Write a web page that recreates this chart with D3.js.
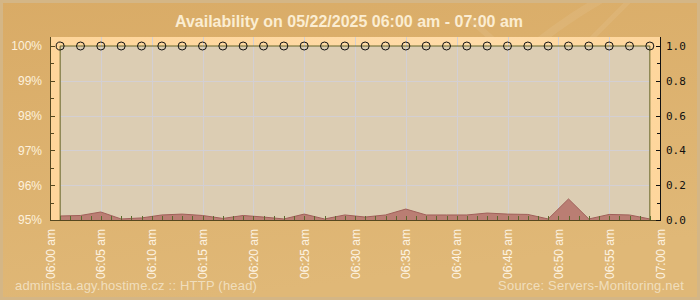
<!DOCTYPE html>
<html>
<head>
<meta charset="utf-8">
<script src="https://cdn.jsdelivr.net/npm/d3@7"></script>
<style>
  html, body { margin: 0; padding: 0; background: #dbb06e; }
  svg { display: block; }
</style>
</head>
<body>
<script>
// chart data
var titleText = "Availability on 05/22/2025 06:00 am - 07:00 am";
var footerLeft = "administa.agy.hostime.cz :: HTTP (head)";
var footerRight = "Source: Servers-Monitoring.net";

var pointTimes = ["06:01","06:03","06:05","06:07","06:09","06:11","06:13","06:15","06:17","06:19",
                  "06:21","06:23","06:25","06:27","06:29","06:31","06:33","06:35","06:37","06:39",
                  "06:41","06:43","06:45","06:47","06:49","06:51","06:53","06:55","06:57","06:59"];
var availability = [100,100,100,100,100,100,100,100,100,100,
                    100,100,100,100,100,100,100,100,100,100,
                    100,100,100,100,100,100,100,100,100,100];
var responseTime = [0.023,0.026,0.046,0.006,0.012,0.029,0.034,0.026,0.009,0.026,
                    0.017,0.006,0.034,0.006,0.029,0.017,0.029,0.063,0.029,0.029,
                    0.029,0.040,0.034,0.032,0.006,0.121,0.006,0.032,0.029,0.006];

var xTickTimes = ["06:00","06:05","06:10","06:15","06:20","06:25","06:30","06:35","06:40","06:45","06:50","06:55","07:00"];
var xTickLabels = ["06:00 am","06:05 am","06:10 am","06:15 am","06:20 am","06:25 am","06:30 am",
                   "06:35 am","06:40 am","06:45 am","06:50 am","06:55 am","07:00 am"];
var leftTicks = [95, 96, 97, 98, 99, 100];
var rightTicks = [0, 0.2, 0.4, 0.6, 0.8, 1.0];

var W = 700, H = 300;
var plot = {left: 50, right: 660, top: 37, bottom: 220};

var parseTime = d3.timeParse("%Y-%m-%d %H:%M");
function t(s) { return parseTime("2025-05-22 " + s); }

var x = d3.scaleTime()
    .domain([t("06:00"), t("07:00")])
    .range([plot.left, plot.right]);
var yLeft = d3.scaleLinear().domain([95, 100]).range([220, 46]);
var yRight = d3.scaleLinear().domain([0, 1]).range([220, 46]);

var points = pointTimes.map(function(s, i) {
    return {date: t(s), avail: availability[i], rt: responseTime[i]};
});

var svg = d3.select("body").append("svg")
    .attr("width", W)
    .attr("height", H)
    .style("font-family", "'Liberation Sans', Arial, sans-serif");

var defs = svg.append("defs");
var bg = defs.append("linearGradient").attr("id", "bg")
    .attr("x1", 0).attr("y1", 0).attr("x2", 0.3).attr("y2", 1);
bg.append("stop").attr("offset", "0%").attr("stop-color", "#d9ab66");
bg.append("stop").attr("offset", "100%").attr("stop-color", "#e0b877");

var frameGrad = defs.append("linearGradient").attr("id", "frame")
    .attr("x1", 0).attr("y1", 0).attr("x2", 1).attr("y2", 0);
frameGrad.append("stop").attr("offset", "0%").attr("stop-color", "#fed59a");
frameGrad.append("stop").attr("offset", "70%").attr("stop-color", "#ffdca9");
frameGrad.append("stop").attr("offset", "100%").attr("stop-color", "#fed69c");

// background
svg.append("rect")
    .attr("width", W).attr("height", H)
    .attr("fill", "url(#bg)");

// faint light streaks in the background
var streaks = svg.append("g").attr("fill", "none").attr("stroke", "#fff").attr("stroke-opacity", 0.07);
streaks.append("path").attr("d", "M430,140 C470,100 530,40 600,0").attr("stroke-width", 8);
streaks.append("path").attr("d", "M500,140 C540,90 580,50 630,0").attr("stroke-width", 5);
streaks.append("path").attr("d", "M470,20 C520,60 560,110 600,150").attr("stroke-width", 6);

svg.append("rect")
    .attr("x", 1.5).attr("y", 1.5)
    .attr("width", W - 3).attr("height", H - 3)
    .attr("fill", "none")
    .attr("stroke", "#d4b686")
    .attr("stroke-width", 3);

// title
svg.append("text")
    .attr("x", 349)
    .attr("y", 27)
    .attr("text-anchor", "middle")
    .attr("font-size", 16)
    .attr("font-weight", "bold")
    .attr("fill", "#fbedd2")
    .text(titleText);

// plot frame
svg.append("rect")
    .attr("x", plot.left).attr("y", plot.top)
    .attr("width", plot.right - plot.left)
    .attr("height", plot.bottom - plot.top)
    .attr("fill", "url(#frame)");

// availability area fill
var availArea = d3.area()
    .x(function(d) { return x(d.date); })
    .y0(yLeft(95))
    .y1(function(d) { return yLeft(d.avail); });

svg.append("path")
    .datum(points)
    .attr("d", availArea)
    .attr("fill", "#dccdb3");

// grid
var grid = svg.append("g").attr("stroke", "#d3cfd3").attr("stroke-width", 1);
grid.selectAll("line.v")
    .data(xTickTimes.slice(1, -1))
    .enter().append("line")
    .attr("x1", function(d) { return Math.round(x(t(d))) + 0.5; })
    .attr("x2", function(d) { return Math.round(x(t(d))) + 0.5; })
    .attr("y1", plot.top)
    .attr("y2", plot.bottom);
grid.selectAll("line.h")
    .data(leftTicks.slice(1, -1))
    .enter().append("line")
    .attr("x1", x(t(pointTimes[0])))
    .attr("x2", x(t(pointTimes[pointTimes.length - 1])))
    .attr("y1", function(d) { return Math.round(yLeft(d)) + 0.5; })
    .attr("y2", function(d) { return Math.round(yLeft(d)) + 0.5; });

// response time area (right axis)
var rtArea = d3.area()
    .x(function(d) { return x(d.date); })
    .y0(yRight(0))
    .y1(function(d) { return yRight(d.rt); });
var rtLine = d3.line()
    .x(function(d) { return x(d.date); })
    .y(function(d) { return yRight(d.rt); });

svg.append("path")
    .datum(points)
    .attr("d", rtArea)
    .attr("fill", "#ba7e73");
svg.append("path")
    .datum(points)
    .attr("d", rtLine)
    .attr("fill", "none")
    .attr("stroke", "#a0605a")
    .attr("stroke-width", 1);

// availability outline and markers
var first = points[0], last = points[points.length - 1];
var outline = [{date: first.date, avail: 95}].concat(points, [{date: last.date, avail: 95}]);
svg.append("path")
    .datum(outline)
    .attr("d", d3.line()
        .x(function(d) { return x(d.date); })
        .y(function(d) { return yLeft(d.avail); }))
    .attr("fill", "none")
    .attr("stroke", "#67672b")
    .attr("stroke-width", 1);

svg.append("g").selectAll("circle")
    .data(points)
    .enter().append("circle")
    .attr("cx", function(d) { return x(d.date); })
    .attr("cy", function(d) { return yLeft(d.avail); })
    .attr("r", 4)
    .attr("fill", "none")
    .attr("stroke", "#111")
    .attr("stroke-width", 1);

// x minute ticks
var minuteTicks = x.ticks(d3.timeMinute.every(1)).slice(1, -1);
svg.append("g").attr("stroke", "#5b6a2c").selectAll("line")
    .data(minuteTicks)
    .enter().append("line")
    .attr("x1", function(d) { return Math.round(x(d)) + 0.5; })
    .attr("x2", function(d) { return Math.round(x(d)) + 0.5; })
    .attr("y1", plot.bottom)
    .attr("y2", plot.bottom - 4);

// left axis
var leftAxis = svg.append("g");
leftAxis.append("line")
    .attr("x1", plot.left + 0.5).attr("x2", plot.left + 0.5)
    .attr("y1", plot.top).attr("y2", plot.bottom)
    .attr("stroke", "#56481f");
var leftMinor = d3.range(95.5, 100, 1);
leftAxis.selectAll("line.major")
    .data(leftTicks).enter().append("line")
    .attr("x1", plot.left).attr("x2", plot.left + 5)
    .attr("y1", function(d) { return Math.round(yLeft(d)) + 0.5; })
    .attr("y2", function(d) { return Math.round(yLeft(d)) + 0.5; })
    .attr("stroke", "#56481f");
leftAxis.selectAll("line.minor")
    .data(leftMinor).enter().append("line")
    .attr("x1", plot.left).attr("x2", plot.left + 4)
    .attr("y1", function(d) { return Math.round(yLeft(d)) + 0.5; })
    .attr("y2", function(d) { return Math.round(yLeft(d)) + 0.5; })
    .attr("stroke", "#56481f");
leftAxis.selectAll("text")
    .data(leftTicks).enter().append("text")
    .attr("x", 42)
    .attr("y", function(d) { return yLeft(d); })
    .attr("dy", "0.36em")
    .attr("text-anchor", "end")
    .attr("font-size", 12)
    .attr("fill", "#fdf1dc")
    .text(function(d) { return d + "%"; });

// bottom axis line
svg.append("line")
    .attr("x1", plot.left).attr("x2", plot.right)
    .attr("y1", plot.bottom + 0.5).attr("y2", plot.bottom + 0.5)
    .attr("stroke", "#56481f");

// right axis
var rightAxis = svg.append("g");
rightAxis.append("line")
    .attr("x1", plot.right + 0.5).attr("x2", plot.right + 0.5)
    .attr("y1", plot.top).attr("y2", plot.bottom + 1)
    .attr("stroke", "#111");
var rightMinor = d3.range(0.1, 1, 0.2);
rightAxis.selectAll("line.major")
    .data(rightTicks).enter().append("line")
    .attr("x1", plot.right - 4).attr("x2", plot.right + 1)
    .attr("y1", function(d) { return Math.round(yRight(d)) + 0.5; })
    .attr("y2", function(d) { return Math.round(yRight(d)) + 0.5; })
    .attr("stroke", "#111");
rightAxis.selectAll("line.minor")
    .data(rightMinor).enter().append("line")
    .attr("x1", plot.right - 3).attr("x2", plot.right + 1)
    .attr("y1", function(d) { return Math.round(yRight(d)) + 0.5; })
    .attr("y2", function(d) { return Math.round(yRight(d)) + 0.5; })
    .attr("stroke", "#111");
rightAxis.selectAll("text")
    .data(rightTicks).enter().append("text")
    .attr("x", 666)
    .attr("y", function(d) { return yRight(d); })
    .attr("dy", "0.36em")
    .attr("font-family", "'DejaVu Sans Mono', monospace")
    .attr("font-size", 11)
    .attr("fill", "#111")
    .text(function(d) { return d3.format(".1f")(d); });

// x labels, rotated
svg.append("g").selectAll("text")
    .data(xTickTimes)
    .enter().append("text")
    .attr("transform", function(d) {
        return "translate(" + (x(t(d)) + 4.5) + "," + 229 + ") rotate(-90)";
    })
    .attr("text-anchor", "end")
    .attr("font-size", 12)
    .attr("fill", "#fdf3e2")
    .text(function(d, i) { return xTickLabels[i]; });

// footer
svg.append("text")
    .attr("x", 15)
    .attr("y", 290)
    .attr("font-size", 13)
    .attr("letter-spacing", 0.2)
    .attr("fill", "#f3e3c6")
    .attr("fill-opacity", 0.9)
    .text(footerLeft);
svg.append("text")
    .attr("x", 684)
    .attr("y", 290)
    .attr("text-anchor", "end")
    .attr("font-size", 13)
    .attr("letter-spacing", 0.2)
    .attr("fill", "#f3e3c6")
    .attr("fill-opacity", 0.9)
    .text(footerRight);
</script>
</body>
</html>
